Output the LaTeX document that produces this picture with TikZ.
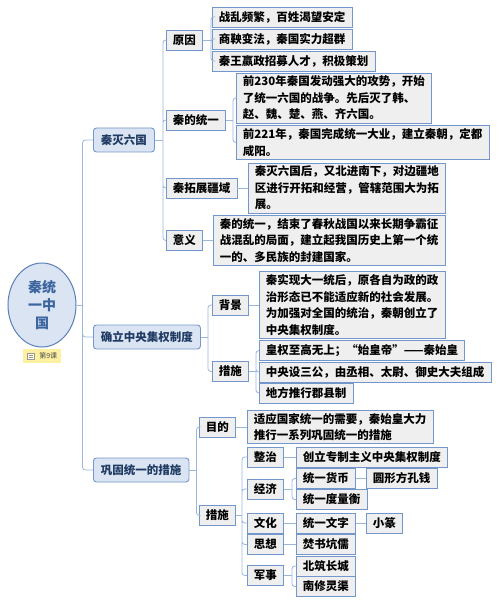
\documentclass[tikz,border=0pt]{standalone}
\usepackage{fontspec}
\setmainfont{Noto Sans CJK SC}
\usepackage{tikz}
\usetikzlibrary{shapes.geometric}
\usepackage{xcolor}
\definecolor{linkblue}{HTML}{9CB5DC}
\definecolor{boxline}{HTML}{7396CB}
\definecolor{rootline}{HTML}{5B7FB8}
\definecolor{topicfill}{HTML}{DAE4F2}
\definecolor{boxfill}{HTML}{EFEFEF}
\definecolor{roottext}{HTML}{3C65A0}
\definecolor{topictext}{HTML}{1F3A63}
\definecolor{tagyellow}{HTML}{FDF0A0}

\begin{document}
\begin{tikzpicture}[
  x=1pt, y=-1pt,
  font=\fontsize{11.5}{16.5}\selectfont\bfseries,
  root/.style={ellipse, draw=rootline, fill=topicfill, line width=1pt,
               minimum width=68pt, minimum height=84pt, inner sep=0pt,
               align=center, text=roottext, font=\fontsize{14}{18}\selectfont\bfseries},
  tag/.style={rectangle, fill=tagyellow, anchor=west, minimum height=14pt,
              text width=30pt, inner xsep=4pt, inner ysep=0pt, align=right,
              text=black!70, font=\fontsize{7}{8}\selectfont},
  topic/.style={rectangle, rounded corners=3pt, draw=boxline, fill=topicfill,
                line width=0.9pt, minimum height=24pt, inner xsep=7.5pt,
                anchor=west, text=topictext},
  sub/.style={rectangle, draw=boxline, fill=boxfill, line width=0.9pt,
              minimum height=20pt, inner xsep=6.5pt, inner ysep=3pt,
              anchor=west, align=left},
  leaf/.style={sub},
  link/.style={draw=linkblue, line width=0.8pt},
  elbow/.style={link, rounded corners=3pt}
]
  \useasboundingbox (0,0) rectangle (500,604);

  % Centre
  \node[root] (root) at (42,305) {秦统\\一中\\国};
  \node[tag] (tag) at (23,356) {第9课};
  \draw[black!40, fill=white!80!tagyellow, line width=0.4pt] (27.5,353) rectangle (34,359);
  \draw[black!40, line width=0.4pt] (28.5,355) -- (33,355) (28.5,357) -- (33,357);

  % Main topics
  \node[topic] (qmlg) at (93,140) {秦灭六国};
  \node[topic] (qlzy) at (93,337) {确立中央集权制度};
  \node[topic] (ggty) at (93,470) {巩固统一的措施};

  % Qin conquers the six states
  \node[sub] (yy)   at (166,40)  {原因};
  \node[sub] (qdty) at (166,120) {秦的统一};
  \node[sub] (tzjy) at (166,188) {秦拓展疆域};
  \node[sub] (yiyi) at (166,240.5) {意义};
  \node[leaf] (yy1) at (212,17) {战乱频繁，百姓渴望安定};
  \node[leaf] (yy2) at (212,39) {商鞅变法，秦国实力超群};
  \node[leaf] (yy3) at (212,61) {秦王嬴政招募人才，积极策划};
  \node[leaf] (ty1) at (236,98) {前230年秦国发动强大的攻势，开始\\了统一六国的战争。先后灭了韩、\\赵、魏、楚、燕、齐六国。};
  \node[leaf] (ty2) at (236,142.5) {前221年，秦国完成统一大业，建立秦朝，定都\\咸阳。};
  \node[leaf] (jy1) at (248,188) {秦灭六国后，又北进南下，对边疆地\\区进行开拓和经营，管辖范围大为拓\\展。};
  \node[leaf] (yiyi1) at (213,240.5) {秦的统一，结束了春秋战国以来长期争霸征\\战混乱的局面，建立起我国历史上第一个统\\一的、多民族的封建国家。};

  % Central authority
  \node[sub] (bj)  at (212,305) {背景};
  \node[sub] (cs1) at (212,371.5) {措施};
  \node[leaf] (bj1)  at (259,305) {秦实现大一统后，原各自为政的政\\治形态已不能适应新的社会发展。\\为加强对全国的统治，秦朝创立了\\中央集权制度。};
  \node[leaf] (cs11) at (259,350.5) {皇权至高无上；“始皇帝”——秦始皇};
  \node[leaf] (cs12) at (259,372) {中央设三公，由丞相、太尉、御史大夫组成};
  \node[leaf] (cs13) at (259,393) {地方推行郡县制};

  % Consolidation
  \node[sub] (md)  at (199,427) {目的};
  \node[sub] (cs2) at (199,515.5) {措施};
  \node[leaf] (md1) at (247,427) {适应国家统一的需要，秦始皇大力\\推行一系列巩固统一的措施};
  \node[sub] (zz) at (247,457) {整治};
  \node[sub] (jj) at (247,489) {经济};
  \node[sub] (wh) at (247,523) {文化};
  \node[sub] (sx) at (247,544.5) {思想};
  \node[sub] (js) at (247,575.5) {军事};
  \node[leaf] (zz1)  at (296,457) {创立专制主义中央集权制度};
  \node[leaf] (jj1)  at (296,478.5) {统一货币};
  \node[leaf] (jj2)  at (296,499.5) {统一度量衡};
  \node[leaf] (jj11) at (366,478.5) {圆形方孔钱};
  \node[leaf] (wh1)  at (296,523) {统一文字};
  \node[leaf] (wh11) at (366,523) {小篆};
  \node[leaf] (sx1)  at (296,544.5) {焚书坑儒};
  \node[leaf] (js1)  at (296,566) {北筑长城};
  \node[leaf] (js2)  at (296,586.5) {南修灵渠};

  % Connectors
  \draw[link] (root.east) -- ++(6,0) coordinate (root-j);
  \draw[elbow] (root-j) |- (qmlg.west) (root-j) |- (qlzy.west) (root-j) |- (ggty.west);

  \draw[link] (qmlg.east) -- ++(8,0) coordinate (qmlg-j);
  \draw[elbow] (qmlg-j) |- (yy.west) (qmlg-j) |- (qdty.west)
               (qmlg-j) |- (tzjy.west) (qmlg-j) |- (yiyi.west);
  \draw[link] (yy.east) -- ++(8,0) coordinate (yy-j);
  \draw[elbow] (yy-j) |- (yy1.west) (yy-j) |- (yy2.west) (yy-j) |- (yy3.west);
  \draw[link] (qdty.east) -- ++(7,0) coordinate (qdty-j);
  \draw[elbow] (qdty-j) |- (ty1.west) (qdty-j) |- (ty2.west);
  \draw[link] (tzjy.east) -- (jy1.west);
  \draw[link] (yiyi.east) -- (yiyi1.west);

  \draw[link] (qlzy.east) -- ++(7,0) coordinate (qlzy-j);
  \draw[elbow] (qlzy-j) |- (bj.west) (qlzy-j) |- (cs1.west);
  \draw[link] (bj.east) -- (bj1.west);
  \draw[link] (cs1.east) -- ++(7,0) coordinate (cs1-j);
  \draw[elbow] (cs1-j) |- (cs11.west) (cs1-j) |- (cs12.west) (cs1-j) |- (cs13.west);

  \draw[link] (ggty.east) -- ++(7,0) coordinate (ggty-j);
  \draw[elbow] (ggty-j) |- (md.west) (ggty-j) |- (cs2.west);
  \draw[link] (md.east) -- (md1.west);
  \draw[link] (cs2.east) -- ++(6,0) coordinate (cs2-j);
  \draw[elbow] (cs2-j) |- (zz.west) (cs2-j) |- (jj.west) (cs2-j) |- (wh.west)
               (cs2-j) |- (sx.west) (cs2-j) |- (js.west);
  \draw[link] (zz.east) -- (zz1.west);
  \draw[link] (jj.east) -- ++(8,0) coordinate (jj-j);
  \draw[elbow] (jj-j) |- (jj1.west) (jj-j) |- (jj2.west);
  \draw[link] (jj1.east) -- (jj11.west);
  \draw[link] (wh.east) -- (wh1.west);
  \draw[link] (wh1.east) -- (wh11.west);
  \draw[link] (sx.east) -- (sx1.west);
  \draw[link] (js.east) -- ++(8,0) coordinate (js-j);
  \draw[elbow] (js-j) |- (js1.west) (js-j) |- (js2.west);
\end{tikzpicture}
\end{document}
